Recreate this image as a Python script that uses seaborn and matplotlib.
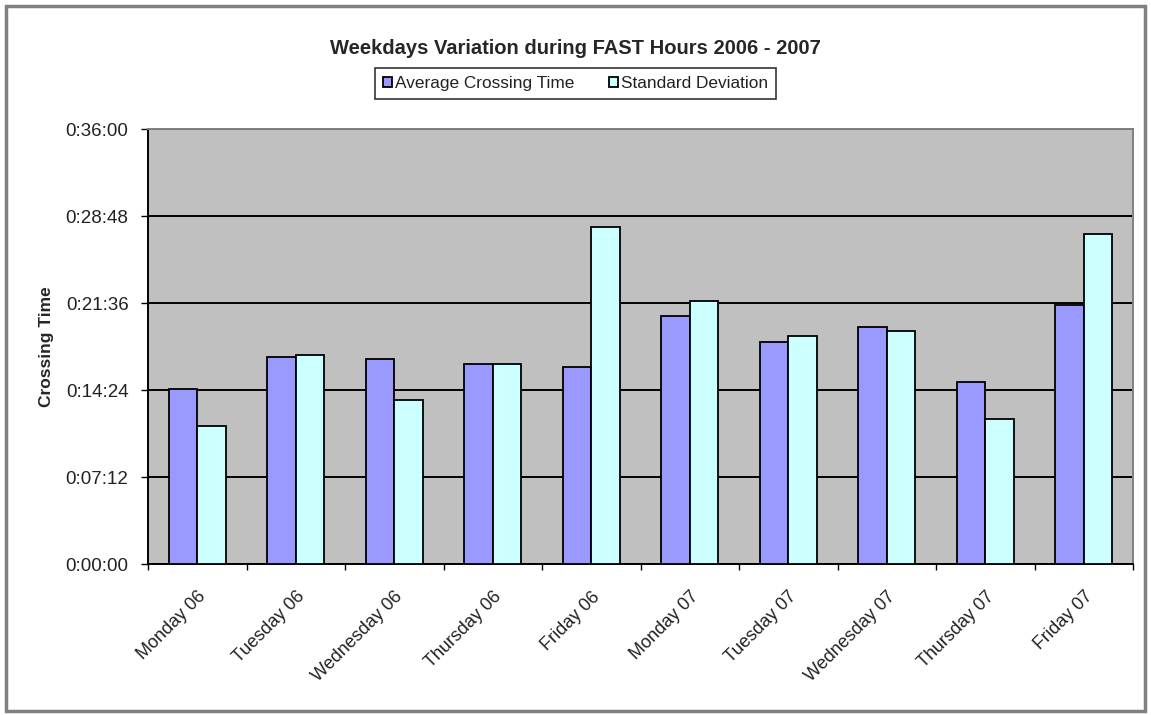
import matplotlib
matplotlib.use("Agg")

import matplotlib.pyplot as plt
import matplotlib.ticker as mticker
import pandas as pd
import seaborn as sns
from matplotlib.patches import Rectangle

# crossing times in seconds
days = ["Monday 06", "Tuesday 06", "Wednesday 06", "Thursday 06", "Friday 06",
        "Monday 07", "Tuesday 07", "Wednesday 07", "Thursday 07", "Friday 07"]
avg_crossing = [870, 1031, 1019, 995, 981, 1234, 1105, 1177, 907, 1286]
std_dev = [687, 1039, 816, 995, 1675, 1309, 1135, 1157, 721, 1640]
series = ["Average Crossing Time", "Standard Deviation"]
colors = {"Average Crossing Time": "#9999FF", "Standard Deviation": "#CCFFFF"}
y_ticks = [0, 432, 864, 1296, 1728, 2160]

df = pd.DataFrame({
    "day": days * 2,
    "series": [series[0]] * len(days) + [series[1]] * len(days),
    "seconds": avg_crossing + std_dev,
})


def hms(v, _pos=None):
    v = int(round(v))
    return f"{v // 3600}:{(v % 3600) // 60:02d}:{v % 60:02d}"


sns.set_style("white")
plt.rcParams["font.family"] = ["Liberation Sans", "DejaVu Sans"]

fig = plt.figure(figsize=(11.51, 7.15), dpi=100)
ax = fig.add_axes([0.1286, 0.2105, 0.8558, 0.6087])
ax.set_facecolor("#C0C0C0")

sns.barplot(data=df, x="day", y="seconds", hue="series", order=days,
            hue_order=series, palette=colors, saturation=1, width=0.58,
            gap=0, edgecolor="black", linewidth=1.3, ax=ax, zorder=3)

ax.set_ylim(0, 2160)
ax.set_xlim(-0.5, len(days) - 0.5)
ax.set_yticks(y_ticks)
ax.yaxis.set_major_formatter(mticker.FuncFormatter(hms))
ax.grid(axis="y", color="black", linewidth=1.4, zorder=1)
ax.set_axisbelow(True)

# ticks sit between categories, labels on category centres
ax.set_xticks(range(len(days)))
ax.set_xticklabels(days, rotation=45, ha="right", rotation_mode="anchor")
ax.set_xticks([i - 0.5 for i in range(len(days) + 1)], minor=True)
ax.tick_params(axis="x", which="major", length=0, pad=17, labelsize=13,
               labelcolor="#222222")
ax.tick_params(axis="x", which="minor", length=4, width=1, color="black",
               direction="out", bottom=True)
ax.tick_params(axis="y", length=5, width=1, color="black", direction="out",
               left=True, labelsize=13.5, labelcolor="#222222", pad=9)

for side in ["left", "bottom"]:
    ax.spines[side].set_color("black")
    ax.spines[side].set_linewidth(1.4)
for side in ["top", "right"]:
    ax.spines[side].set_color("#808080")
    ax.spines[side].set_linewidth(1.4)

ax.set_xlabel("")
ax.set_ylabel("Crossing Time", fontsize=12.5, fontweight="bold", labelpad=8)

fig.suptitle("Weekdays Variation during FAST Hours 2006 - 2007",
             fontsize=14.5, fontweight="bold", y=0.945)

sns.move_legend(ax, loc="center", bbox_to_anchor=(0.5, 0.883),
                bbox_transform=fig.transFigure, ncol=2, title=None,
                frameon=True, fancybox=False, fontsize=12.4,
                handlelength=0.55, handleheight=0.55, handletextpad=0.15,
                columnspacing=2.0, borderpad=0.45, borderaxespad=0)
leg = ax.get_legend()
leg.get_frame().set_edgecolor("black")
leg.get_frame().set_linewidth(1.2)
for t in leg.get_texts():
    t.set_color("#222222")

fig.patches.append(Rectangle((0.005, 0.005), 0.99, 0.987,
                             transform=fig.transFigure, fill=False,
                             edgecolor="#808080", linewidth=2.5))

fig.savefig("out.png", dpi=100)
